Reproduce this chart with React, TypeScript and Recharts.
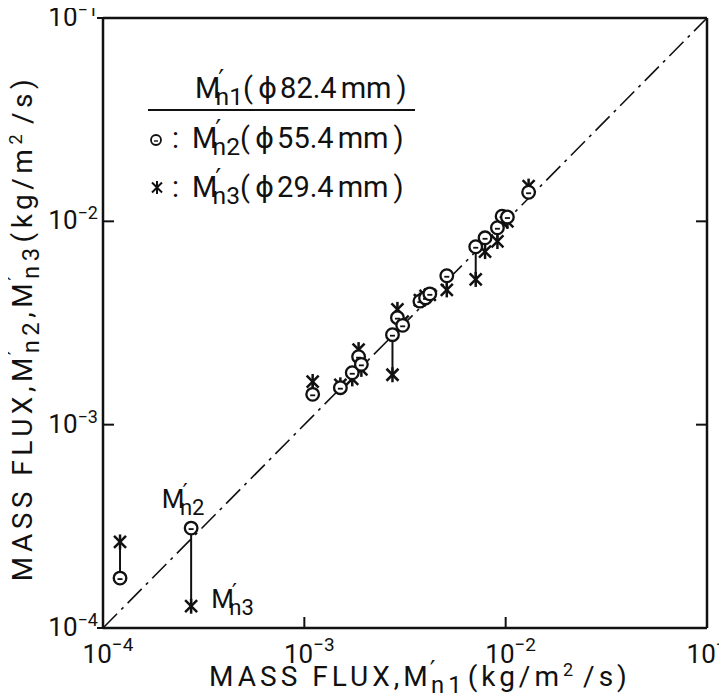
import React from "react";
import { ScatterChart, Scatter, XAxis, YAxis, ReferenceLine, ReferenceDot } from "recharts";

const m1Flux = [1.215e-4, 2.74e-4, 1.1e-3, 1.51e-3, 1.73e-3, 1.86e-3, 1.92e-3, 2.74e-3, 2.9e-3, 3.08e-3, 3.75e-3, 4.0e-3, 4.2e-3, 5.1e-3, 7.1e-3, 7.9e-3, 9.1e-3, 9.6e-3, 1.02e-2, 1.3e-2];
const m2Flux = [1.76e-4, 3.1e-4, 1.41e-3, 1.52e-3, 1.8e-3, 2.16e-3, 1.98e-3, 2.77e-3, 3.36e-3, 3.08e-3, 4.05e-3, 4.2e-3, 4.4e-3, 5.4e-3, 7.5e-3, 8.3e-3, 9.3e-3, 1.06e-2, 1.05e-2, 1.39e-2];
const m3Flux = [2.65e-4, 1.28e-4, 1.63e-3, 1.57e-3, 1.68e-3, 2.34e-3, 1.87e-3, 1.76e-3, 3.69e-3, 3.21e-3, 4.1e-3, 4.3e-3, 4.35e-3, 4.6e-3, 5.18e-3, 7.1e-3, 7.96e-3, 9.9e-3, 1.0e-2, 1.49e-2];

const tickValues = [1e-4, 1e-3, 1e-2, 1e-1];
const tickExponents = ["−4", "−3", "−2", "−1"];
const domain: [number, number] = [1e-4, 1e-1];

const circleData = m1Flux.map((x, i) => ({ x, y: m2Flux[i] }));
const starData = m1Flux.map((x, i) => ({ x, y: m3Flux[i] }));

const FONT = "Roboto, 'DejaVu Sans', sans-serif";
const INK = "#111";

const CircleMark = (p: any) => {
  const { cx, cy } = p;
  if (cx == null || cy == null) return null;
  return (
    <g>
      <circle cx={cx} cy={cy} r={6.3} fill="#fff" stroke={INK} strokeWidth={2.3} />
      <line x1={cx - 2.5} y1={cy + 1} x2={cx + 2.5} y2={cy + 1} stroke={INK} strokeWidth={1.8} />
    </g>
  );
};

const StarMark = (p: any) => {
  const { cx, cy } = p;
  if (cx == null || cy == null) return null;
  const s = 7.5, d = 6;
  return (
    <g stroke={INK} strokeWidth={2.5}>
      <line x1={cx} y1={cy - s} x2={cx} y2={cy + s} />
      <line x1={cx - d} y1={cy - d} x2={cx + d} y2={cy + d} />
      <line x1={cx - d} y1={cy + d} x2={cx + d} y2={cy - d} />
    </g>
  );
};

const isEdge = (index: number) => index === 0 || index === tickValues.length - 1;

const BottomTick = (p: any) => {
  const { x, y, index } = p;
  return (
    <g>
      {!isEdge(index) && <line x1={x} y1={y} x2={x} y2={y - 11} stroke={INK} strokeWidth={2} />}
      <text x={x + 5} y={y + 35} textAnchor="middle" fontFamily={FONT} fontSize={26} fill={INK}>
        10<tspan dy={-12} fontSize={19}>{tickExponents[index]}</tspan>
      </text>
    </g>
  );
};

const TopTick = (p: any) => {
  const { x, y, index } = p;
  if (isEdge(index)) return <g />;
  return <line x1={x} y1={y} x2={x} y2={y + 11} stroke={INK} strokeWidth={2} />;
};

const LeftTick = (p: any) => {
  const { x, y, index } = p;
  return (
    <g>
      {!isEdge(index) && <line x1={x} y1={y} x2={x + 11} y2={y} stroke={INK} strokeWidth={2} />}
      {isEdge(index) && <line x1={x} y1={y} x2={x - 6} y2={y} stroke={INK} strokeWidth={2} />}
      <text x={x - 5} y={y + 8} textAnchor="end" fontFamily={FONT} fontSize={26} fill={INK}>
        10<tspan dy={-10} fontSize={18}>{tickExponents[index]}</tspan>
      </text>
    </g>
  );
};

const RightTick = (p: any) => {
  const { x, y, index } = p;
  if (isEdge(index)) return <g />;
  return <line x1={x} y1={y} x2={x - 11} y2={y} stroke={INK} strokeWidth={2} />;
};

const Mn = ({ sub, size, children }: { sub: string; size: number; children?: React.ReactNode }) => (
  <>
    <tspan>M</tspan>
    <tspan dx={-2} dy={-size * 0.3} fontSize={size * 0.9} fontFamily="'DejaVu Sans', sans-serif">′</tspan>
    <tspan dx={-size * 0.3} dy={size * 0.55} fontSize={size * 0.85}>{"n" + sub}</tspan>
    {children != null && <tspan dy={-size * 0.25} fontSize={size}>{children}</tspan>}
  </>
);

const AnnotLabel = (text: string, dx: number, dy: number, anchor: string) => (props: any) => {
  const vb = props.viewBox || {};
  const cx = vb.x != null ? vb.x + (vb.width || 0) / 2 : 0;
  const cy = vb.y != null ? vb.y + (vb.height || 0) / 2 : 0;
  return (
    <text x={cx + dx} y={cy + dy} textAnchor={anchor} fontFamily={FONT} fontSize={26} fill={INK}>
      <Mn sub={text} size={26} />
    </text>
  );
};

export default function App() {
  const W = 727, H = 698;
  return (
    <div style={{ position: "relative", width: W, height: H, margin: "-8px 0 0 -8px", background: "#fff" }}>
      <ScatterChart width={W} height={H} margin={{ top: 0, right: 0, bottom: 0, left: 0 }}>
        <XAxis xAxisId={0} dataKey="x" type="number" scale="log" domain={domain} ticks={tickValues}
          allowDataOverflow height={70} tickSize={0} tickMargin={0} tickLine={false}
          axisLine={{ stroke: INK, strokeWidth: 2.5 }} tick={BottomTick} interval={0} />
        <XAxis xAxisId="top" orientation="top" type="number" scale="log" domain={domain} ticks={tickValues}
          allowDataOverflow height={18} tickSize={0} tickMargin={0} tickLine={false}
          axisLine={{ stroke: INK, strokeWidth: 2.5 }} tick={TopTick} interval={0} />
        <YAxis yAxisId={0} dataKey="y" type="number" scale="log" domain={domain} ticks={tickValues}
          allowDataOverflow width={103} tickSize={0} tickMargin={0} tickLine={false}
          axisLine={{ stroke: INK, strokeWidth: 2.5 }} tick={LeftTick} interval={0} />
        <YAxis yAxisId="right" orientation="right" type="number" scale="log" domain={domain} ticks={tickValues}
          allowDataOverflow width={20} tickSize={0} tickMargin={0} tickLine={false}
          axisLine={{ stroke: INK, strokeWidth: 2.5 }} tick={RightTick} interval={0} />
        <ReferenceLine xAxisId={0} yAxisId={0}
          segment={[{ x: domain[0], y: domain[0] }, { x: domain[1], y: domain[1] }]}
          stroke={INK} strokeWidth={1.6} strokeDasharray="20 6 3 6" ifOverflow="visible" />
        {m1Flux.map((x, i) => (
          <ReferenceLine key={"c" + i} xAxisId={0} yAxisId={0}
            segment={[{ x, y: m2Flux[i] }, { x, y: m3Flux[i] }]}
            stroke={INK} strokeWidth={2} ifOverflow="visible" />
        ))}
        <Scatter xAxisId={0} yAxisId={0} data={starData} shape={StarMark} isAnimationActive={false} />
        <Scatter xAxisId={0} yAxisId={0} data={circleData} shape={CircleMark} isAnimationActive={false} />
        <ReferenceDot xAxisId={0} yAxisId={0} x={m1Flux[1]} y={m2Flux[1]} r={0} fill="none" stroke="none"
          ifOverflow="visible" label={AnnotLabel("2", -8, -20, "middle")} />
        <ReferenceDot xAxisId={0} yAxisId={0} x={m1Flux[1]} y={m3Flux[1]} r={0} fill="none" stroke="none"
          ifOverflow="visible" label={AnnotLabel("3", 20, 2, "start")} />
      </ScatterChart>
      <svg width={W} height={H} style={{ position: "absolute", left: 0, top: 0, pointerEvents: "none" }}>
        <g fontFamily={FONT} fill={INK} fontSize={29}>
          <text x={195} y={98}><Mn sub="1" size={29}><tspan>(</tspan><tspan dx={5}>ϕ</tspan><tspan dx={3}>82.4</tspan><tspan dx={4}>mm</tspan><tspan dx={5}>)</tspan></Mn></text>
          <line x1={148} y1={110} x2={415} y2={110} stroke={INK} strokeWidth={2} />
          <circle cx={156} cy={140} r={5} fill="#fff" stroke={INK} strokeWidth={1.8} />
          <line x1={154} y1={141} x2={158} y2={141} stroke={INK} strokeWidth={1.4} />
          <text x={172} y={148}>:</text>
          <text x={192} y={148}><Mn sub="2" size={29}><tspan>(</tspan><tspan dx={5}>ϕ</tspan><tspan dx={3}>55.4</tspan><tspan dx={4}>mm</tspan><tspan dx={5}>)</tspan></Mn></text>
          <g stroke={INK} strokeWidth={2}>
            <line x1={157} y1={181} x2={157} y2={194} />
            <line x1={152} y1={182.5} x2={162} y2={192.5} />
            <line x1={152} y1={192.5} x2={162} y2={182.5} />
          </g>
          <text x={172} y={197}>:</text>
          <text x={192} y={197}><Mn sub="3" size={29}><tspan>(</tspan><tspan dx={5}>ϕ</tspan><tspan dx={3}>29.4</tspan><tspan dx={4}>mm</tspan><tspan dx={5}>)</tspan></Mn></text>
        </g>
        <text x={420} y={686} textAnchor="middle" fontFamily={FONT} fontSize={28} fill={INK} letterSpacing={4}>
          MASS FLUX,<Mn sub="1" size={28}><tspan dx={2}>(kg/m</tspan><tspan dy={-10} fontSize={18}>2</tspan><tspan dy={10} dx={6}>/s)</tspan></Mn>
        </text>
        <text x={32} y={328} textAnchor="middle" transform="rotate(-90 32 328)" fontFamily={FONT} fontSize={28} fill={INK} letterSpacing={4.5}>
          MASS FLUX,<Mn sub="2" size={28}>,</Mn><Mn sub="3" size={28}><tspan dx={1}>(kg/m</tspan><tspan dy={-10} fontSize={18}>2</tspan><tspan dy={10} dx={6}>/s)</tspan></Mn>
        </text>
      </svg>
    </div>
  );
}
